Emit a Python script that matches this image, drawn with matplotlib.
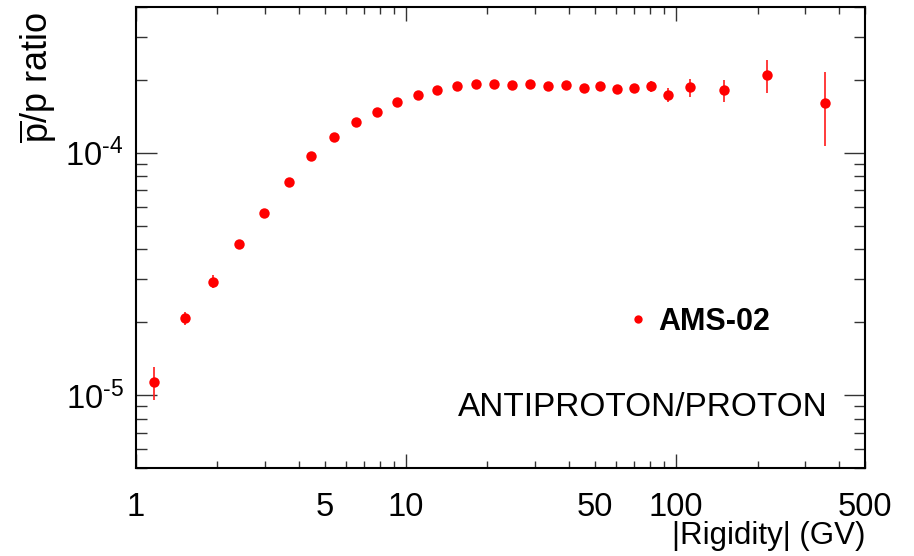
import numpy as np
import matplotlib
matplotlib.use('Agg')
import matplotlib.pyplot as plt
from matplotlib.ticker import FixedLocator, FuncFormatter, NullFormatter

plt.rcParams['font.family'] = ['Liberation Sans', 'DejaVu Sans']
plt.rcParams['mathtext.fontset'] = 'custom'
plt.rcParams['mathtext.rm'] = 'Liberation Sans'
plt.rcParams['mathtext.it'] = 'Liberation Sans:italic'
plt.rcParams['mathtext.bf'] = 'Liberation Sans:bold'

# data
rigidity = [1.166, 1.523, 1.929, 2.414, 2.979, 3.678, 4.447, 5.398, 6.51, 7.79,
            9.29, 11.05, 13.06, 15.41, 18.12, 21.18, 24.76, 28.87, 33.65, 39.14,
            45.37, 52.17, 60.46, 69.9, 80.8, 93.4, 112.4, 150.2, 217.3, 354.2]
ratio_e4 = [0.1128, 0.2075, 0.294, 0.421, 0.563, 0.759, 0.975, 1.165, 1.34, 1.473,
            1.625, 1.741, 1.82, 1.88, 1.93, 1.93, 1.90, 1.916, 1.89, 1.905,
            1.845, 1.887, 1.838, 1.845, 1.88, 1.741, 1.862, 1.809, 2.095, 1.61]
err_e4 = [0.0176, 0.013, 0.018, 0.012, 0.012, 0.014, 0.016, 0.018, 0.02, 0.022,
          0.024, 0.026, 0.028, 0.03, 0.032, 0.034, 0.036, 0.04, 0.044, 0.048,
          0.052, 0.058, 0.064, 0.075, 0.105, 0.12, 0.16, 0.195, 0.325, 0.545]

x_labels = {1: '1', 5: '5', 10: '10', 50: '50', 100: '100', 500: '500'}

x = np.array(rigidity)
y = np.array(ratio_e4) * 1e-4
yerr = np.array(err_e4) * 1e-4

fig = plt.figure(figsize=(9.14, 5.56), dpi=100)
ax = fig.add_axes([0.1488, 0.1583, 0.7976, 0.8291])

eb = ax.errorbar(x, y, yerr=yerr, fmt='o', color='#ff0000', ms=7.5, mew=0,
                 elinewidth=1.2, capsize=1.6, capthick=1.2, ecolor='#ff1a1a', zorder=3)

ax.set_xscale('log')
ax.set_yscale('log')
ax.set_xlim(1, 500)
ax.set_ylim(5e-6, 4e-4)

# x ticks: long at decades, short elsewhere, labels at 1,5,10,50,100,500
ax.xaxis.set_major_locator(FixedLocator([1, 10, 100]))
minors = [m * d for d in (1, 10, 100) for m in range(2, 10) if m * d <= 500]
ax.xaxis.set_minor_locator(FixedLocator(minors))
fmt = FuncFormatter(lambda v, p: x_labels.get(int(round(v)), '') if abs(v - round(v)) < 1e-6 else '')
ax.xaxis.set_major_formatter(fmt)
ax.xaxis.set_minor_formatter(fmt)

ax.yaxis.set_major_locator(FixedLocator([1e-5, 1e-4]))
ax.yaxis.set_major_formatter(FuncFormatter(lambda v, p: r'$10^{\text{-}%d}$' % abs(int(round(np.log10(v))))))
ax.yaxis.set_minor_locator(FixedLocator([m * d for d in (1e-6, 1e-5, 1e-4) for m in range(2, 10)]))
ax.yaxis.set_minor_formatter(NullFormatter())

for s in ax.spines.values():
    s.set_linewidth(1.5)
ax.xaxis.set_tick_params(which='major', direction='in', top=True, length=10, width=1.0,
                         color='#333333', labelsize=23.5, pad=17)
ax.xaxis.set_tick_params(which='minor', direction='in', top=True, length=5, width=1.0,
                         color='#333333', labelsize=23.5, pad=17)
ax.yaxis.set_tick_params(which='major', direction='in', right=True, length=15, width=1.0,
                         color='#333333', labelsize=23.5, pad=9)
ax.yaxis.set_tick_params(which='minor', direction='in', right=True, length=8, width=1.0,
                         color='#333333')

ax.set_xlabel('|Rigidity| (GV)', loc='right', fontsize=22.5)
ax.xaxis.set_label_coords(1.0, -0.115)
ax.set_ylabel(r'$\overline{\mathrm{p}}$/p ratio', loc='top', fontsize=26)
ax.yaxis.set_label_coords(-0.105, 0.989)

ax.legend([eb[0]], ['AMS-02'], loc='center left', bbox_to_anchor=(0.657, 0.317),
          frameon=False, handlelength=0.5, handletextpad=0.4, borderpad=0,
          markerscale=0.8, prop={'weight': 'bold', 'size': 22})

ax.text(0.949, 0.1128, 'ANTIPROTON/PROTON', transform=ax.transAxes,
        ha='right', va='baseline', fontsize=24)

fig.savefig('out.png', dpi=100)
